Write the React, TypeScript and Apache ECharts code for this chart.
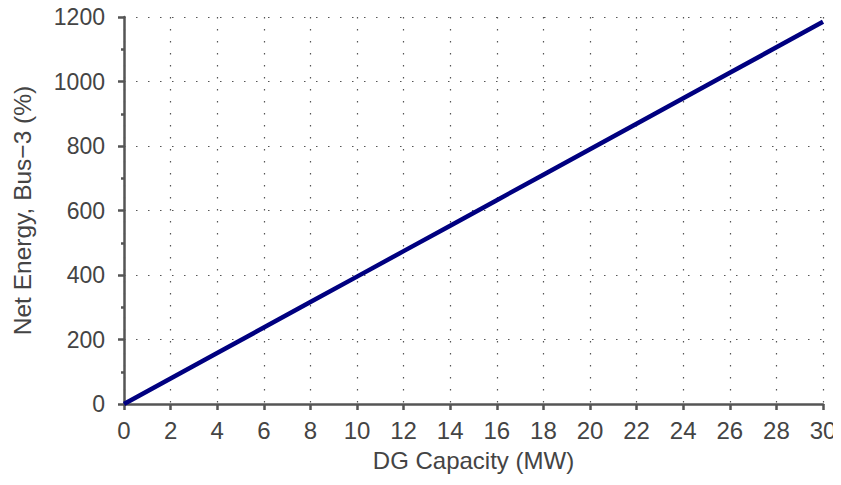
import React, { useEffect, useRef } from "react";
import * as echarts from "echarts";

const capacityMW = [0, 2, 4, 6, 8, 10, 12, 14, 16, 18, 20, 22, 24, 26, 28, 30];
const netEnergy = [0, 79, 158, 237, 316, 395, 474, 553, 632, 711, 790, 869, 948, 1027, 1106, 1185];
const xTitle = "DG Capacity (MW)";
const yTitle = "Net Energy, Bus\u22123 (%)";

export default function App() {
  const ref = useRef<HTMLDivElement>(null);
  useEffect(() => {
    const chart = echarts.init(ref.current!, null, { renderer: "svg" });
    const font = "'Liberation Sans', sans-serif";
    const axisColor = "#555";
    const textColor = "#444";
    const labelStyle = { fontFamily: font, fontSize: 23, color: textColor };
    chart.setOption({
      animation: false,
      backgroundColor: "#fff",
      textStyle: { fontFamily: font, fontSize: 23 },
      grid: { left: 124, right: 18, top: 17, bottom: 81, containLabel: false },
      xAxis: {
        type: "value",
        min: 0,
        max: 30,
        interval: 2,
        name: xTitle,
        nameLocation: "middle",
        nameGap: 44,
        nameTextStyle: { ...labelStyle, fontSize: 24 },
        axisLine: { show: true, onZero: false, lineStyle: { color: axisColor, width: 2.5 } },
        axisTick: { show: true, inside: false, length: 6, lineStyle: { color: axisColor, width: 2.5 } },
        axisLabel: { ...labelStyle, fontSize: 24, margin: 14, formatter: (v: number) => String(v) },
        splitLine: { show: true, lineStyle: { color: "#555", width: 1.2, type: [1.5, 10.5] } },
      },
      yAxis: {
        type: "value",
        min: 0,
        max: 1200,
        interval: 200,
        name: yTitle,
        nameLocation: "middle",
        nameGap: 89,
        nameRotate: 90,
        nameTextStyle: { ...labelStyle, fontSize: 24.5 },
        axisLine: { show: true, onZero: false, lineStyle: { color: axisColor, width: 2.5 } },
        axisTick: { show: true, inside: false, length: 6, lineStyle: { color: axisColor, width: 2.5 } },
        minorTick: { show: true, splitNumber: 2, length: 3, lineStyle: { color: axisColor, width: 2.5 } },
        axisLabel: { ...labelStyle, margin: 19, formatter: (v: number) => String(v) },
        splitLine: { show: true, lineStyle: { color: "#555", width: 1.2, type: [1.5, 10.5] } },
      },
      series: [
        {
          type: "line",
          data: capacityMW.map((x, i) => [x, netEnergy[i]]),
          showSymbol: false,
          lineStyle: { color: "#000080", width: 4.5 },
          z: 5,
        },
      ],
    });
    return () => chart.dispose();
  }, []);
  return <div ref={ref} style={{ width: 841, height: 485, margin: -8 }} />;
}
